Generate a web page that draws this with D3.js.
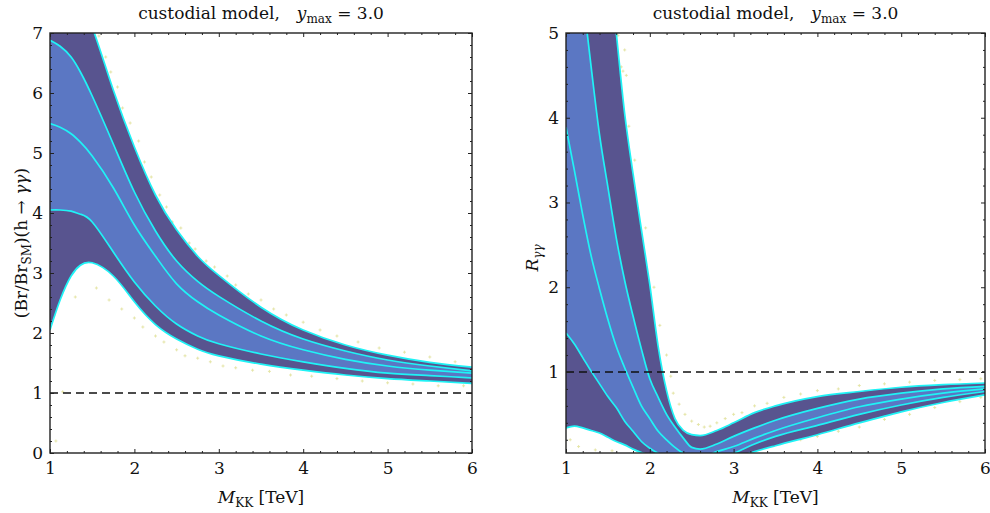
<!DOCTYPE html>
<html>
<head>
<meta charset="utf-8">
<script src="https://cdn.jsdelivr.net/npm/d3@7"></script>
<style>
  body { margin: 0; background: #fff; }
  svg { display: block; }
  text { font-family: "DejaVu Serif", "Liberation Serif", serif; fill: #111; }
</style>
</head>
<body>
<svg id="chart" width="990" height="513"></svg>
<script>
// ---- data ----
// left panel: (Br/Br_SM)(h -> yy) vs M_KK
const mLeft = [1, 1.12, 1.25, 1.36, 1.5, 1.75, 2, 2.25, 2.5, 2.75, 3, 3.5, 4, 4.5, 5, 5.5, 6];
const outerUpperL = [8.9, 8.45, 8.0, 7.55, 7.1, 6.05, 5.1, 4.3, 3.72, 3.28, 2.96, 2.43, 2.05, 1.8, 1.63, 1.51, 1.43];
const innerUpperL = [6.88, 6.78, 6.6, 6.35, 5.95, 5.15, 4.35, 3.7, 3.2, 2.86, 2.61, 2.2, 1.9, 1.7, 1.55, 1.45, 1.37];
const middleL     = [5.49, 5.43, 5.32, 5.18, 4.95, 4.42, 3.8, 3.28, 2.82, 2.52, 2.3, 1.95, 1.72, 1.56, 1.45, 1.38, 1.33];
const innerLowerL = [4.05, 4.05, 4.03, 3.98, 3.85, 3.35, 2.85, 2.45, 2.15, 1.95, 1.82, 1.65, 1.52, 1.41, 1.33, 1.29, 1.25];
const outerLowerL = [2.05, 2.55, 2.95, 3.13, 3.17, 2.95, 2.52, 2.14, 1.9, 1.73, 1.62, 1.48, 1.38, 1.3, 1.24, 1.2, 1.16];

// right panel: R_yy vs M_KK
const mRight = [1, 1.1, 1.2, 1.3, 1.4, 1.5, 1.6, 1.7, 1.8, 1.9, 2.0, 2.1, 2.2, 2.3, 2.4, 2.5, 2.6, 2.8, 3.0, 3.25, 3.5, 4, 4.5, 5, 5.5, 6];
const outerUpperR = [10.5, 9.6, 8.7, 7.8, 6.9, 5.95, 5.0, 4.05, 3.34, 2.68, 2.03, 1.3, 0.78, 0.45, 0.31, 0.26, 0.25, 0.31, 0.40, 0.52, 0.60, 0.71, 0.77, 0.82, 0.85, 0.87];
const innerUpperR = [7.1, 6.3, 5.45, 4.6, 3.8, 3.18, 2.58, 2.08, 1.66, 1.27, 0.92, 0.7, 0.5, 0.35, 0.22, 0.11, 0.09, 0.15, 0.24, 0.34, 0.43, 0.57, 0.68, 0.75, 0.80, 0.83];
const middleR     = [3.89, 3.38, 2.85, 2.37, 1.98, 1.62, 1.3, 1.05, 0.82, 0.6, 0.45, 0.3, 0.2, 0.11, 0.04, 0.0, -0.01, 0.06, 0.12, 0.22, 0.31, 0.46, 0.59, 0.68, 0.75, 0.80];
const innerLowerR = [1.46, 1.33, 1.17, 1.01, 0.86, 0.71, 0.58, 0.42, 0.3, 0.18, 0.1, 0.04, 0.0, -0.03, -0.05, -0.06, -0.06, -0.03, 0.04, 0.15, 0.24, 0.37, 0.50, 0.61, 0.70, 0.77];
const outerLowerR = [0.34, 0.36, 0.34, 0.31, 0.28, 0.23, 0.18, 0.14, 0.09, 0.05, 0.02, 0.0, -0.03, -0.05, -0.07, -0.08, -0.08, -0.06, -0.02, 0.06, 0.13, 0.26, 0.40, 0.53, 0.64, 0.73];

// a few of the scan points (yellow crosses) around the bands
const scatterL = [[1.58,6.95],[1.66,6.6],[1.72,6.35],[1.8,6.1],[1.86,5.75],[1.95,5.5],[2.05,5.2],[2.12,4.85],[2.2,4.6],[2.3,4.3],[2.38,4.1],[2.45,3.85],[2.55,3.75],[2.65,3.5],[2.72,3.4],[2.85,3.2],[2.95,3.1],[3.1,2.95],[3.2,2.8],[3.35,2.65],[3.5,2.55],[3.65,2.4],[3.8,2.3],[4.0,2.18],[4.2,2.05],[4.4,1.95],[4.65,1.85],[4.9,1.75],[5.2,1.68],[5.5,1.6],[5.8,1.52],
  [1.05,2.3],[1.15,1.02],[1.07,0.2],[1.3,2.6],[1.55,2.75],[1.7,2.55],[1.85,2.4],[2.0,2.25],[2.1,2.1],[2.25,1.95],[2.35,1.85],[2.5,1.72],[2.6,1.62],[2.75,1.58],[2.9,1.52],[3.05,1.45],[3.2,1.42],[3.4,1.38],[3.6,1.36],[3.85,1.3],[4.1,1.28],[4.4,1.24],[4.7,1.2],[5.0,1.17],[5.3,1.15],[5.6,1.12],[5.9,1.12]];
const scatterR = [[1.62,4.97],[1.7,4.8],[1.68,4.55],[1.72,4.5],[1.66,4.6],[1.75,3.9],[1.82,3.5],[1.95,2.7],[2.05,2.0],[2.12,1.55],[2.2,1.2],[2.25,0.95],[2.28,0.75],[2.35,0.62],[2.42,0.5],[2.5,0.42],[2.58,0.38],[2.65,0.35],[2.72,0.36],[2.8,0.4],[2.9,0.45],[3.0,0.5],[3.1,0.52],[3.25,0.6],[3.4,0.63],[3.6,0.7],[3.8,0.74],[4.0,0.78],[4.25,0.8],[4.5,0.84],[4.8,0.86],[5.1,0.88],[5.4,0.9],[5.7,0.91],[5.95,0.92],
  [1.05,0.2],[1.15,0.12],[1.35,0.08],[1.55,0.07],[2.85,0.06],[3.0,0.08],[3.15,0.1],[3.3,0.09],[3.45,0.15],[3.6,0.17],[3.8,0.2],[4.0,0.24],[4.25,0.3],[4.5,0.35],[4.8,0.44],[5.1,0.5],[5.4,0.58],[5.7,0.65],[5.95,0.7]];

const xTicks = [1, 2, 3, 4, 5, 6];

// ---- drawing ----
const svg = d3.select("#chart");
const purple = "#58548f", blue = "#5b77c3", cyan = "#1ff3f6";

function zip(ms, vs) { return ms.map((m, i) => [m, vs[i]]); }

function panel(opt) {
  const x = d3.scaleLinear().domain([1, 6]).range([opt.left, opt.right]);
  const y = d3.scaleLinear().domain(opt.yDomain).range([453, 33]);
  const g = svg.append("g");

  g.append("clipPath").attr("id", opt.id)
    .append("rect").attr("x", opt.left).attr("y", 33)
    .attr("width", opt.right - opt.left).attr("height", 420);

  const plot = g.append("g").attr("clip-path", "url(#" + opt.id + ")");
  const curve = opt.curve;

  const band = (lo, hi) => d3.area()
    .x((d, i) => x(opt.m[i]))
    .y0((d, i) => y(lo[i]))
    .y1((d, i) => y(hi[i]))
    .curve(curve)(opt.m);

  // scan points first, bands on top of most of them
  plot.selectAll(".pt").data(opt.scatter).join("path")
    .attr("d", d => "M" + (x(d[0]) - 1.5) + "," + y(d[1]) + "h3M" + x(d[0]) + "," + (y(d[1]) - 1.5) + "v3")
    .attr("stroke", "#dede8c").attr("stroke-width", 0.9).attr("opacity", 0.8);

  plot.append("path").attr("d", band(opt.curves[4], opt.curves[0])).attr("fill", purple);
  plot.append("path").attr("d", band(opt.curves[3], opt.curves[1])).attr("fill", blue);

  const line = d3.line().x(d => x(d[0])).y(d => y(d[1])).curve(curve);
  opt.curves.forEach(c => {
    plot.append("path").attr("d", line(zip(opt.m, c)))
      .attr("fill", "none").attr("stroke", cyan).attr("stroke-width", 1.7);
  });

  // dashed SM line at 1
  plot.append("line")
    .attr("x1", x(1)).attr("x2", x(6)).attr("y1", y(1)).attr("y2", y(1))
    .attr("stroke", "#111").attr("stroke-width", 1.5).attr("stroke-dasharray", "8,5");

  // axes: ticks point inside, minor every 0.2
  const xMinor = d3.range(1, 6.001, 0.2).filter(v => Math.abs(v - Math.round(v)) > 1e-6);
  const yMinor = d3.range(0, opt.yDomain[1] + 0.001, 0.2).filter(v => v >= opt.yDomain[0] && Math.abs(v - Math.round(v)) > 1e-6);

  g.append("g").attr("transform", "translate(0,453)")
    .call(d3.axisBottom(x).tickValues(xTicks).tickSize(-4).tickPadding(9).tickFormat(d3.format("d")));
  g.append("g").attr("transform", "translate(0,453)")
    .call(d3.axisBottom(x).tickValues(xMinor).tickSize(-2).tickFormat(""));
  g.append("g").attr("transform", "translate(0,33)")
    .call(d3.axisTop(x).tickValues(xTicks).tickSize(-4).tickFormat(""));
  g.append("g").attr("transform", "translate(0,33)")
    .call(d3.axisTop(x).tickValues(xMinor).tickSize(-2).tickFormat(""));

  g.append("g").attr("transform", "translate(" + opt.left + ",0)")
    .call(d3.axisLeft(y).tickValues(opt.yTicks).tickSize(-4).tickPadding(7).tickFormat(d3.format("d")));
  g.append("g").attr("transform", "translate(" + opt.left + ",0)")
    .call(d3.axisLeft(y).tickValues(yMinor).tickSize(-2).tickFormat(""));
  g.append("g").attr("transform", "translate(" + opt.right + ",0)")
    .call(d3.axisRight(y).tickValues(opt.yTicks).tickSize(-4).tickFormat(""));
  g.append("g").attr("transform", "translate(" + opt.right + ",0)")
    .call(d3.axisRight(y).tickValues(yMinor).tickSize(-2).tickFormat(""));

  g.selectAll(".domain").remove();
  g.selectAll(".tick line").attr("stroke", "#222");
  g.selectAll(".tick text").style("font-size", "17px").style("font-family", "DejaVu Serif").attr("fill", "#111");

  g.append("rect").attr("x", opt.left).attr("y", 33)
    .attr("width", opt.right - opt.left).attr("height", 420)
    .attr("fill", "none").attr("stroke", "#222").attr("stroke-width", 1.4);

  // title
  const cx = (opt.left + opt.right) / 2;
  const t = g.append("text").attr("x", cx).attr("y", 19).attr("text-anchor", "middle")
    .style("font-size", "17px");
  t.append("tspan").text("custodial model,\u2002\u2002");
  t.append("tspan").style("font-style", "italic").text("y");
  t.append("tspan").attr("dy", 4).style("font-size", "12px").text("max");
  t.append("tspan").attr("dy", -4).text(" = 3.0");

  // x label
  const xl = g.append("text").attr("x", cx).attr("y", 503).attr("text-anchor", "middle")
    .style("font-size", "17px");
  xl.append("tspan").style("font-style", "italic").text("M");
  xl.append("tspan").attr("dy", 4).style("font-size", "12px").text("KK");
  xl.append("tspan").attr("dy", -4).text(" [TeV]");

  return g;
}

const gL = panel({
  id: "clipL", left: 50, right: 472, yDomain: [0, 7], yTicks: [0, 1, 2, 3, 4, 5, 6, 7],
  m: mLeft, curves: [outerUpperL, innerUpperL, middleL, innerLowerL, outerLowerL], scatter: scatterL,
  curve: d3.curveNatural
});
const gR = panel({
  id: "clipR", left: 566, right: 985, yDomain: [0.044, 5], yTicks: [1, 2, 3, 4, 5],
  m: mRight, curves: [outerUpperR, innerUpperR, middleR, innerLowerR, outerLowerR], scatter: scatterR,
  curve: d3.curveMonotoneX
});

// y labels
const yl = gL.append("text").attr("transform", "translate(27,243) rotate(-90)")
  .attr("text-anchor", "middle").style("font-size", "17px");
yl.append("tspan").text("(Br/Br");
yl.append("tspan").attr("dy", 4).style("font-size", "12px").text("SM");
yl.append("tspan").attr("dy", -4).text(")(h \u2192 ");
yl.append("tspan").style("font-style", "italic").text("\u03b3\u03b3");
yl.append("tspan").text(")");

const yr = gR.append("text").attr("transform", "translate(538,258) rotate(-90)")
  .attr("text-anchor", "middle").style("font-size", "17px");
yr.append("tspan").style("font-style", "italic").text("R");
yr.append("tspan").attr("dy", 4).style("font-size", "12px").style("font-style", "italic").text("\u03b3\u03b3");
</script>
</body>
</html>
